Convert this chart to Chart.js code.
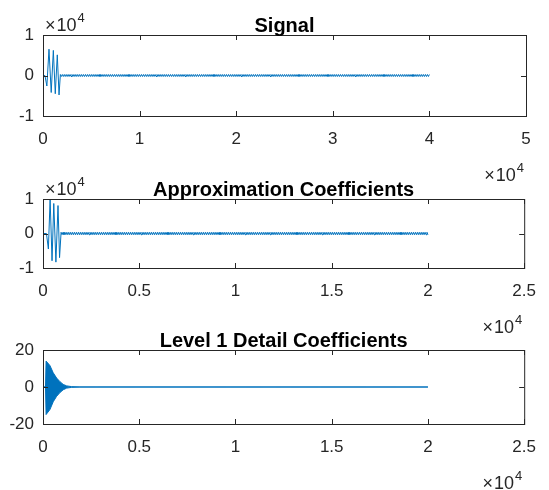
<!DOCTYPE html>
<html>
<head>
<meta charset="utf-8">
<title>Signal decomposition</title>
<script src="https://cdn.jsdelivr.net/npm/chart.js@4.4.0/dist/chart.umd.min.js"></script>
<style>
  body { margin: 0; background: #fff; }
  .wrap { position: relative; width: 549px; height: 490px; }
  .wrap canvas { position: absolute; left: 0; top: 0; }
</style>
</head>
<body>
<div class="wrap">
  <canvas id="chart1" width="549" height="490"></canvas>
  <canvas id="chart2" width="549" height="490"></canvas>
  <canvas id="chart3" width="549" height="490"></canvas>
</div>
<script>
const FONT = 'Arial, "Liberation Sans", Helvetica, sans-serif';
const AXIS_COLOR = "#262626";
const LINE_COLOR = "#0072BD";

// Signal (x in samples, y in raw units)
const signalBurstX = [0, 200, 400, 620, 850, 1070, 1270, 1480, 1660, 1800];
const signalBurstY = [0, 0, -2600, 6500, -4200, 6200, -4500, 5100, -4800, 250];
const signalTailStart = 1900;
const signalTailEnd = 40000;
const signalTailY = [
    -250, 250, -250, 250, -250, 250, -250, 250, -250, 250, -250, 250, -250, 250, -250, 250, -250, 250, -250, 250,
    -250, 250, -250, 250, -250, 250, -250, 250, -250, 250, -250, 250, -250, 250, -250, 250, -250, 250, -250, 250,
    -250, 250, -250, 250, -250, 250, -250, 250, -250, 250, -250, 250, -250, 250, -250, 250, -250, 250, -250, 250,
    -250, 250, -250, 250, -250, 250, -250, 250, -250, 250, -250, 250, -250, 250, -250, 250, -250, 250, -250, 250,
    -250, 250, -250, 250, -250, 250, -250, 250, -250, 250, -250, 250, -250, 250, -250, 250, -250, 250, -250, 250,
    -250, 250, -250, 250, -250, 250, -250, 250, -250, 250, -250, 250, -250, 250, -250, 250, -250, 250, -250, 250,
    -250, 250, -250, 250, -250, 250, -250, 250, -250, 250, -250, 250, -250, 250, -250, 250, -250, 250, -250, 250,
    -250, 250, -250, 250, -250, 250, -250, 250, -250, 250, -250, 250, -250, 250, -250, 250, -250, 250, -250, 250,
    -250, 250, -250, 250, -250, 250, -250, 250, -250, 250, -250, 250, -250, 250, -250, 250, -250, 250, -250, 250,
    -250, 250, -250, 250, -250, 250, -250, 250, -250, 250, -250, 250, -250, 250, -250, 250, -250, 250, -250, 250,
    -250, 250, -250, 250, -250, 250, -250, 250, -250, 250, -250, 250, -250, 250, -250, 250, -250, 250, -250, 250,
    -250, 250, -250, 250, -250, 250, -250, 250, -250, 250, -250, 250, -250, 250, -250, 250, -250, 250, -250, 250,
    -250, 250, -250, 250, -250, 250, -250, 250, -250, 250, -250, 250, -250, 250, -250, 250, -250, 250, -250, 250,
    -250, 250, -250, 250, -250, 250, -250, 250, -250, 250, -250, 250, -250, 250, -250, 250, -250, 250, -250, 250,
    -250, 250, -250, 250, -250, 250, -250, 250, -250, 250, -250, 250, -250, 250, -250, 250, -250, 250, -250, 250,
    -250, 250, -250, 250, -250, 250, -250, 250, -250, 250, -250, 250, -250, 250, -250, 250, -250, 250, -250, 250,
    -250, 250, -250, 250, -250, 250, -250, 250, -250, 250, -250, 250, -250, 250, -250, 250, -250, 250, -250, 250,
    -250, 250, -250, 250, -250, 250, -250, 250, -250, 250, -250, 250, -250, 250, -250, 250, -250, 250, -250, 250,
    -250, 250, -250, 250, -250, 250, -250, 250, -250, 250, -250, 250, -250, 250, -250, 250, -250, 250, -250, 250,
    -250, 250
];

// Approximation coefficients
const approxBurstX = [0, 180, 280, 370, 470, 560, 670, 780, 860, 940];
const approxBurstY = [0, 0, -4500, 10000, -7900, 8700, -8300, 8100, -7000, 350];
const approxTailStart = 990;
const approxTailEnd = 20000;
const approxTailY = [
    -350, 350, -350, 350, -350, 350, -350, 350, -350, 350, -350, 350, -350, 350, -350, 350, -350, 350, -350, 350,
    -350, 350, -350, 350, -350, 350, -350, 350, -350, 350, -350, 350, -350, 350, -350, 350, -350, 350, -350, 350,
    -350, 350, -350, 350, -350, 350, -350, 350, -350, 350, -350, 350, -350, 350, -350, 350, -350, 350, -350, 350,
    -350, 350, -350, 350, -350, 350, -350, 350, -350, 350, -350, 350, -350, 350, -350, 350, -350, 350, -350, 350,
    -350, 350, -350, 350, -350, 350, -350, 350, -350, 350, -350, 350, -350, 350, -350, 350, -350, 350, -350, 350,
    -350, 350, -350, 350, -350, 350, -350, 350, -350, 350, -350, 350, -350, 350, -350, 350, -350, 350, -350, 350,
    -350, 350, -350, 350, -350, 350, -350, 350, -350, 350, -350, 350, -350, 350, -350, 350, -350, 350, -350, 350,
    -350, 350, -350, 350, -350, 350, -350, 350, -350, 350, -350, 350, -350, 350, -350, 350, -350, 350, -350, 350,
    -350, 350, -350, 350, -350, 350, -350, 350, -350, 350, -350, 350, -350, 350, -350, 350, -350, 350, -350, 350,
    -350, 350, -350, 350, -350, 350, -350, 350, -350, 350, -350, 350, -350, 350, -350, 350, -350, 350, -350, 350,
    -350, 350, -350, 350, -350, 350, -350, 350, -350, 350, -350, 350, -350, 350, -350, 350, -350, 350, -350, 350,
    -350, 350, -350, 350, -350, 350, -350, 350, -350, 350, -350, 350, -350, 350, -350, 350, -350, 350, -350, 350,
    -350, 350, -350, 350, -350, 350, -350, 350, -350, 350, -350, 350, -350, 350, -350, 350, -350, 350, -350, 350,
    -350, 350, -350, 350, -350, 350, -350, 350, -350, 350, -350, 350, -350, 350, -350, 350, -350, 350, -350, 350,
    -350, 350, -350, 350, -350, 350, -350, 350, -350, 350, -350, 350, -350, 350, -350, 350, -350, 350, -350, 350,
    -350, 350, -350, 350, -350, 350, -350, 350, -350, 350, -350, 350, -350, 350, -350, 350, -350, 350, -350, 350,
    -350, 350, -350, 350, -350, 350, -350, 350, -350, 350, -350, 350, -350, 350, -350, 350, -350, 350, -350, 350,
    -350, 350, -350, 350, -350, 350, -350, 350, -350, 350, -350, 350, -350, 350, -350, 350, -350, 350, -350, 350,
    -350, 350, -350, 350, -350, 350, -350, 350, -350, 350, -350, 350, -350, 350, -350, 350, -350, 350, -350, 350,
    -350
];

// Level 1 detail coefficients (dense oscillation -> upper / lower envelope)
const detailX = [0, 130, 160, 360, 530, 710, 880, 1050, 1230, 1490, 1920, 20000];
const detailUpper = [0, 0, 14, 11.6, 7.7, 4.8, 2.9, 1.4, 0.6, 0.2, 0.05, 0];
const detailLower = [0, 0, -14.9, -12.2, -8, -5, -3, -1.5, -0.6, -0.2, -0.05, 0];

// Tick labels (x and y ticks of panels 1-2 are in units of 10^4)
const signalXTicks = [0, 1, 2, 3, 4, 5];
const coefXTicks = [0, 0.5, 1, 1.5, 2, 2.5];
const bigYTicks = [-1, 0, 1];
const detailYTicks = [-20, 0, 20];

function toPoints(xs, ys) {
    return xs.map((x, i) => ({ x: x, y: ys[i] }));
}

function tailPoints(start, end, ys) {
    const step = (end - start) / (ys.length - 1);
    return ys.map((y, i) => ({ x: start + i * step, y: y }));
}

function drawExponent(ctx, x, baseline, alignRight) {
    ctx.fillStyle = AXIS_COLOR;
    ctx.textAlign = "left";
    ctx.textBaseline = "alphabetic";
    ctx.font = "18px " + FONT;
    const wTimes = ctx.measureText("\u00d7").width;
    const wTen = ctx.measureText("10").width;
    ctx.font = "13px " + FONT;
    const wSup = ctx.measureText("4").width;
    const total = wTimes + 1 + wTen + 1 + wSup;
    const left = alignRight ? x - total : x;
    ctx.font = "18px " + FONT;
    ctx.fillText("\u00d7", left, baseline);
    ctx.fillText("10", left + wTimes + 1, baseline);
    ctx.font = "13px " + FONT;
    ctx.fillText("4", left + wTimes + 1 + wTen + 1, baseline - 9);
}

function framePlugin(cfg) {
    return {
        id: "frame",
        afterDraw(chart) {
            const ctx = chart.ctx;
            const a = chart.chartArea;
            const sx = chart.scales.x;
            const sy = chart.scales.y;
            ctx.save();
            ctx.strokeStyle = AXIS_COLOR;
            ctx.lineWidth = 1;
            ctx.strokeRect(a.left + 0.5, a.top + 0.5, a.right - a.left, a.bottom - a.top);

            ctx.beginPath();
            sx.ticks.forEach(t => {
                const px = Math.round(sx.getPixelForValue(t.value)) + 0.5;
                ctx.moveTo(px, a.bottom);
                ctx.lineTo(px, a.bottom - 5);
                ctx.moveTo(px, a.top);
                ctx.lineTo(px, a.top + 5);
            });
            sy.ticks.forEach(t => {
                const py = Math.round(sy.getPixelForValue(t.value)) + 0.5;
                ctx.moveTo(a.left, py);
                ctx.lineTo(a.left + 5, py);
                ctx.moveTo(a.right, py);
                ctx.lineTo(a.right - 5, py);
            });
            ctx.stroke();

            ctx.fillStyle = "#000";
            ctx.font = "bold 20px " + FONT;
            ctx.textAlign = "center";
            ctx.textBaseline = "alphabetic";
            ctx.fillText(cfg.title, (a.left + a.right) / 2, a.top - 3);

            if (cfg.expTop) {
                drawExponent(ctx, a.left + 2, a.top - 4, false);
            }
            drawExponent(ctx, a.right - 2, a.bottom + 65, true);
            ctx.restore();
        }
    };
}

function makePanel(id, cfg) {
    new Chart(document.getElementById(id), {
        type: "line",
        data: { datasets: cfg.datasets },
        options: {
            responsive: false,
            animation: false,
            events: [],
            layout: {
                padding: { left: 0, right: 549 - 526, top: cfg.top, bottom: 490 - cfg.bottom - 30 }
            },
            plugins: {
                legend: { display: false },
                tooltip: { enabled: false }
            },
            elements: {
                point: { radius: 0 },
                line: { tension: 0, borderWidth: 1 }
            },
            scales: {
                x: {
                    type: "linear",
                    min: cfg.xMin,
                    max: cfg.xMax,
                    afterBuildTicks: s => { s.ticks = cfg.xTicks.map(v => ({ value: v * cfg.xUnit })); },
                    afterFit: s => { s.height = 30; },
                    grid: { display: false, drawTicks: false },
                    border: { display: false },
                    ticks: {
                        autoSkip: false,
                        maxRotation: 0,
                        padding: 13,
                        color: AXIS_COLOR,
                        font: { family: FONT, size: 17 },
                        callback: v => String(v / cfg.xUnit)
                    }
                },
                y: {
                    min: cfg.yMin,
                    max: cfg.yMax,
                    afterBuildTicks: s => { s.ticks = cfg.yTicks.map(v => ({ value: v * cfg.yUnit })); },
                    afterFit: s => { s.width = 43; },
                    grid: { display: false, drawTicks: false },
                    border: { display: false },
                    ticks: {
                        autoSkip: false,
                        padding: 9,
                        color: AXIS_COLOR,
                        font: { family: FONT, size: 17 },
                        callback: v => String(v / cfg.yUnit)
                    }
                }
            }
        },
        plugins: [framePlugin(cfg)]
    });
}

// Panel 1: Signal
makePanel("chart1", {
    title: "Signal",
    expTop: true,
    top: 35, bottom: 116,
    xMin: 0, xMax: 50000, xUnit: 10000, xTicks: signalXTicks,
    yMin: -10000, yMax: 10000, yUnit: 10000, yTicks: bigYTicks,
    datasets: [{
        data: toPoints(signalBurstX, signalBurstY).concat(tailPoints(signalTailStart, signalTailEnd, signalTailY)),
        borderColor: LINE_COLOR,
        fill: false
    }]
});

// Panel 2: Approximation Coefficients
makePanel("chart2", {
    title: "Approximation Coefficients",
    expTop: true,
    top: 199, bottom: 268,
    xMin: 0, xMax: 25000, xUnit: 10000, xTicks: coefXTicks,
    yMin: -10000, yMax: 10000, yUnit: 10000, yTicks: bigYTicks,
    datasets: [{
        data: toPoints(approxBurstX, approxBurstY).concat(tailPoints(approxTailStart, approxTailEnd, approxTailY)),
        borderColor: LINE_COLOR,
        fill: false
    }]
});

// Panel 3: Level 1 Detail Coefficients
makePanel("chart3", {
    title: "Level 1 Detail Coefficients",
    expTop: false,
    top: 350, bottom: 424,
    xMin: 0, xMax: 25000, xUnit: 10000, xTicks: coefXTicks,
    yMin: -20, yMax: 20, yUnit: 1, yTicks: detailYTicks,
    datasets: [
        {
            data: toPoints(detailX, detailUpper),
            borderColor: LINE_COLOR,
            backgroundColor: LINE_COLOR,
            fill: "+1"
        },
        {
            data: toPoints(detailX, detailLower),
            borderColor: LINE_COLOR,
            fill: false
        }
    ]
});
</script>
</body>
</html>
